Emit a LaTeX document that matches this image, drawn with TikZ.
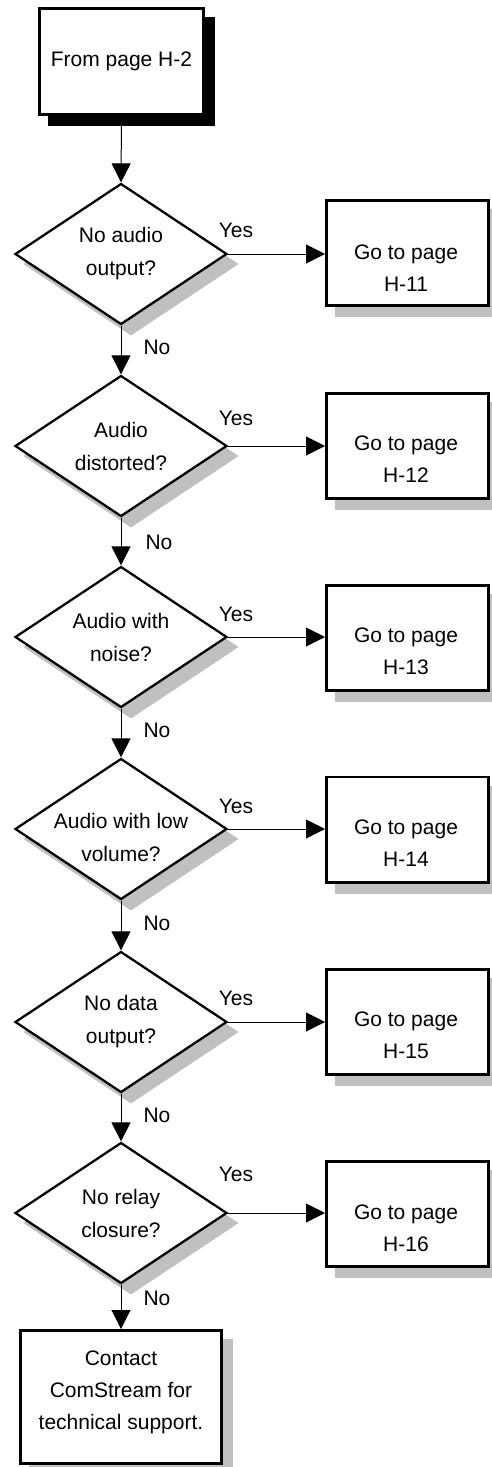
\documentclass[tikz,border=0pt]{standalone}
\usepackage{fontspec}
\setmainfont{Liberation Sans}
\usetikzlibrary{shapes.geometric,arrows.meta,shadows}

\definecolor{shade}{RGB}{192,192,192}

\begin{document}
\begin{tikzpicture}[x=1pt,y=-1pt,
  txt/.style={font=\fontsize{21}{32}\selectfont, align=center, inner sep=0pt},
  startbox/.style={rectangle, draw, line width=2.7pt, fill=white,
    minimum width=164pt, minimum height=106pt, inner sep=0pt,
    font=\fontsize{21}{32}\selectfont,
    drop shadow={shadow xshift=10pt, shadow yshift=-10pt, fill=black, draw=black, opacity=1}},
  decision/.style={diamond, draw, line width=2.3pt, fill=white, aspect=1.5,
    inner sep=0pt, minimum width=212pt, minimum height=141pt, align=center,
    font=\fontsize{21}{33}\selectfont,
    drop shadow={shadow xshift=10pt, shadow yshift=-10pt, fill=shade, draw=shade, opacity=1}},
  pagebox/.style={rectangle, draw, line width=2.7pt, fill=white,
    minimum width=162.3pt, minimum height=105.3pt, inner sep=0pt,
    drop shadow={shadow xshift=10pt, shadow yshift=-10pt, fill=shade, draw=shade, opacity=1}},
  endbox/.style={pagebox, minimum width=201.3pt, minimum height=133.3pt},
  flow/.style={-{Triangle[length=19pt,width=19pt]}, line width=1pt},
  lbl/.style={font=\fontsize{21}{25}\selectfont, inner sep=0pt}]

\useasboundingbox (0,0) rectangle (491,1467);

% entry point
\node[startbox] (start) at (121.5,61.5) {From page H-2};

% decision chain
\node[decision] (d1) at (121,254)  {No audio\\output?};
\node[decision] (d2) at (121,446)  {Audio\\distorted?};
\node[decision] (d3) at (121,637)  {Audio with\\noise?};
\node[decision] (d4) at (121,829)  {};
\node[txt, font=\fontsize{21}{33}\selectfont] (d4t) at (121,837) {Audio with low\\volume?};
\node[decision] (d5) at (121,1022) {No data\\output?};
\node[decision] (d6) at (121,1213) {No relay\\closure?};

% referral boxes
\node[pagebox] (g1) at (407.5,253)    {};
\node[pagebox] (g2) at (407.5,446)    {};
\node[pagebox] (g3) at (407.5,638)    {};
\node[pagebox] (g4) at (407.5,829.5)  {};
\node[pagebox] (g5) at (407.5,1022)   {};
\node[pagebox] (g6) at (407.5,1214)   {};
\node[txt] (g1t) at (406,268.4)  {Go to page\\H-11};
\node[txt] (g2t) at (406,459.5)  {Go to page\\H-12};
\node[txt] (g3t) at (406,651.4)  {Go to page\\H-13};
\node[txt] (g4t) at (406,843.4)  {Go to page\\H-14};
\node[txt] (g5t) at (406,1035.4) {Go to page\\H-15};
\node[txt] (g6t) at (406,1228.4) {Go to page\\H-16};

% final step
\node[endbox] (fin) at (121,1397) {};
\node[txt] (fint) at (121,1392) {Contact\\ComStream for\\technical support.};

% vertical flow
\draw[flow] (start.south) -- (d1.north);
\draw[flow] (d1.south) -- (d2.north);
\draw[flow] (d2.south) -- (d3.north);
\draw[flow] (d3.south) -- (d4.north);
\draw[flow] (d4.south) -- (d5.north);
\draw[flow] (d5.south) -- (d6.north);
\draw[flow] (d6.south) -- (fin.north);

% yes branches
\draw[flow] (d1.east) -- (d1.east -| g1.west);
\draw[flow] (d2.east) -- (d2.east -| g2.west);
\draw[flow] (d3.east) -- (d3.east -| g3.west);
\draw[flow] (d4.east) -- (d4.east -| g4.west);
\draw[flow] (d5.east) -- (d5.east -| g5.west);
\draw[flow] (d6.east) -- (d6.east -| g6.west);

% branch labels
\node[lbl] (y1) at (236,230)  {Yes};
\node[lbl] (y2) at (236,418)  {Yes};
\node[lbl] (y3) at (236,614)  {Yes};
\node[lbl] (y4) at (236,806)  {Yes};
\node[lbl] (y5) at (236,998)  {Yes};
\node[lbl] (y6) at (236,1174) {Yes};
\node[lbl] (n1) at (157,347)  {No};
\node[lbl] (n2) at (159,542)  {No};
\node[lbl] (n3) at (157,730)  {No};
\node[lbl] (n4) at (157,923)  {No};
\node[lbl] (n5) at (157,1115) {No};
\node[lbl] (n6) at (157,1298) {No};
\end{tikzpicture}
\end{document}
